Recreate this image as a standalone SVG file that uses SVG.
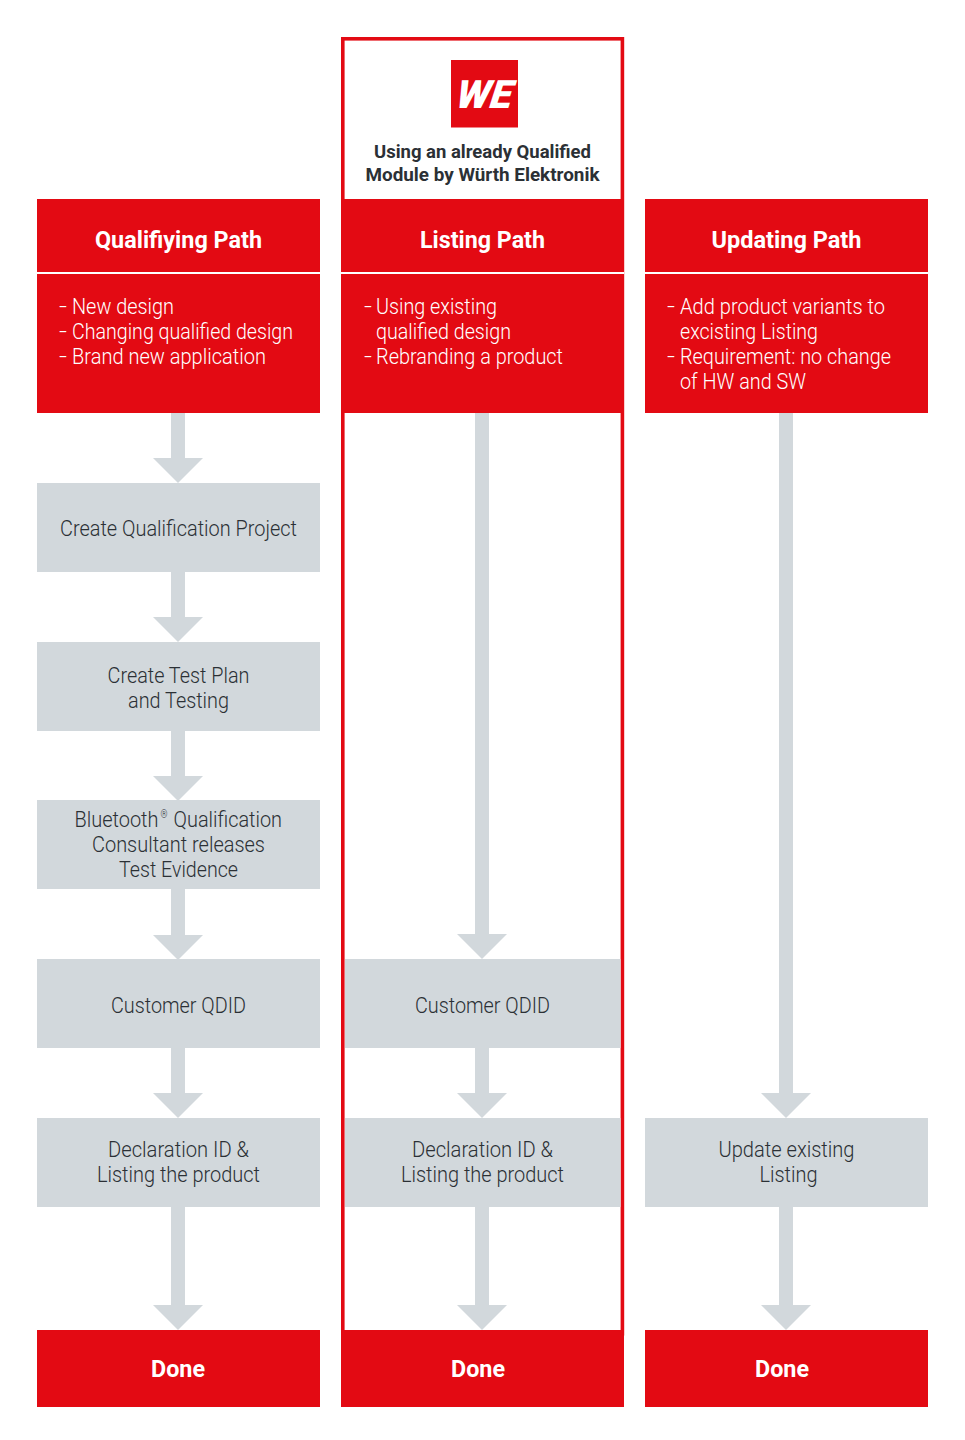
<svg xmlns="http://www.w3.org/2000/svg" width="965" height="1440" viewBox="0 0 965 1440">
<style>
.red{fill:#e30a13}
.gray{fill:#d2d8dc}
.arrow{fill:#d2d8dc}
text{font-family:"Roboto","Liberation Sans",sans-serif}
.t{font-size:22px;font-weight:300;fill:#2b3035;text-anchor:middle}
.s{font-size:22px;font-weight:300;fill:#2b3035}
.r{font-size:10px;font-weight:300;fill:#2b3035}
.l{font-size:22px;font-weight:300;fill:#fff}
.h{font-size:24px;font-weight:700;fill:#fff;text-anchor:middle}
.d{font-size:24px;font-weight:700;fill:#fff;text-anchor:middle}
.c{font-size:18.5px;font-weight:700;fill:#2b3035;text-anchor:middle}
</style>
<rect width="965" height="1440" fill="#fff"/>
<g id="connectors">
<path class="arrow" d="M171 413h14v45h18l-25 25-25-25h18z"/>
<path class="arrow" d="M171 572h14v45h18l-25 25-25-25h18z"/>
<path class="arrow" d="M171 731h14v45h18l-25 25-25-25h18z"/>
<path class="arrow" d="M171 889h14v46h18l-25 25-25-25h18z"/>
<path class="arrow" d="M171 1048h14v45h18l-25 25-25-25h18z"/>
<path class="arrow" d="M171 1207h14v98h18l-25 25-25-25h18z"/>
<path class="arrow" d="M475 413h14v521h18l-25 25-25-25h18z"/>
<path class="arrow" d="M475 1048h14v45h18l-25 25-25-25h18z"/>
<path class="arrow" d="M475 1207h14v98h18l-25 25-25-25h18z"/>
<path class="arrow" d="M779 413h14v680h18l-25 25-25-25h18z"/>
<path class="arrow" d="M779 1207h14v98h18l-25 25-25-25h18z"/>
</g>
<g id="listing-frame"><rect x="342.800" y="38.800" width="279.600" height="1295" fill="none" stroke="#e30a13" stroke-width="3.600"/></g>
<g id="logo">
<rect class="red" x="451" y="60" width="67" height="67.500"/>
<text transform="translate(483 108) skewX(-8)" x="0" y="0" font-size="39" font-weight="900" font-style="italic" fill="#fff" text-anchor="middle" textLength="56" lengthAdjust="spacingAndGlyphs">WE</text>
</g>
<g id="intro">
<text class="c" x="482.500" y="158" textLength="217" lengthAdjust="spacingAndGlyphs">Using an already Qualified</text>
<text class="c" x="482.500" y="181" textLength="234" lengthAdjust="spacingAndGlyphs">Module by Würth Elektronik</text>
</g>
<g id="qualifying-head">
<rect class="red" x="37" y="199" width="283" height="73"/>
<text class="h" x="178.500" y="248" textLength="167" lengthAdjust="spacingAndGlyphs">Qualifiying Path</text>
</g>
<g id="listing-head">
<rect class="red" x="341" y="199" width="283" height="73"/>
<rect x="341" y="272" width="283" height="2" fill="#fff"/>
<text class="h" x="482.500" y="248" textLength="125" lengthAdjust="spacingAndGlyphs">Listing Path</text>
</g>
<g id="updating-head">
<rect class="red" x="645" y="199" width="283" height="73"/>
<text class="h" x="786.500" y="248" textLength="150" lengthAdjust="spacingAndGlyphs">Updating Path</text>
</g>
<g id="qualifying-desc">
<rect class="red" x="37" y="274" width="283" height="139"/>
<text class="l" x="59" y="314" textLength="8" lengthAdjust="spacingAndGlyphs">-</text><text class="l" x="72" y="314" textLength="102" lengthAdjust="spacingAndGlyphs">New design</text>
<text class="l" x="59" y="339" textLength="8" lengthAdjust="spacingAndGlyphs">-</text><text class="l" x="72" y="339" textLength="221" lengthAdjust="spacingAndGlyphs">Changing qualified design</text>
<text class="l" x="59" y="364" textLength="8" lengthAdjust="spacingAndGlyphs">-</text><text class="l" x="72" y="364" textLength="194" lengthAdjust="spacingAndGlyphs">Brand new application</text>
</g>
<g id="listing-desc">
<rect class="red" x="341" y="274" width="283" height="139"/>
<text class="l" x="364" y="314" textLength="8" lengthAdjust="spacingAndGlyphs">-</text><text class="l" x="376" y="314" textLength="121" lengthAdjust="spacingAndGlyphs">Using existing</text>
<text class="l" x="376" y="339" textLength="135" lengthAdjust="spacingAndGlyphs">qualified design</text>
<text class="l" x="364" y="364" textLength="8" lengthAdjust="spacingAndGlyphs">-</text><text class="l" x="376" y="364" textLength="187" lengthAdjust="spacingAndGlyphs">Rebranding a product</text>
</g>
<g id="updating-desc">
<rect class="red" x="645" y="274" width="283" height="139"/>
<text class="l" x="667" y="314" textLength="8" lengthAdjust="spacingAndGlyphs">-</text><text class="l" x="680" y="314" textLength="205" lengthAdjust="spacingAndGlyphs">Add product variants to</text>
<text class="l" x="680" y="339" textLength="138" lengthAdjust="spacingAndGlyphs">excisting Listing</text>
<text class="l" x="667" y="364" textLength="8" lengthAdjust="spacingAndGlyphs">-</text><text class="l" x="680" y="364" textLength="211" lengthAdjust="spacingAndGlyphs">Requirement: no change</text>
<text class="l" x="680" y="389" textLength="126" lengthAdjust="spacingAndGlyphs">of HW and SW</text>
</g>
<g id="create-project">
<rect class="gray" x="37" y="483" width="283" height="89"/>
<text class="t" x="178.500" y="536" textLength="237" lengthAdjust="spacingAndGlyphs">Create Qualification Project</text>
</g>
<g id="test-plan">
<rect class="gray" x="37" y="642" width="283" height="89"/>
<text class="t" x="178.500" y="683" textLength="142" lengthAdjust="spacingAndGlyphs">Create Test Plan</text>
<text class="t" x="178.500" y="708" textLength="101" lengthAdjust="spacingAndGlyphs">and Testing</text>
</g>
<g id="bluetooth">
<rect class="gray" x="37" y="800" width="283" height="89"/>
<text class="s" x="74.500" y="827" textLength="84" lengthAdjust="spacingAndGlyphs">Bluetooth</text>
<text class="r" x="160.500" y="818" textLength="7" lengthAdjust="spacingAndGlyphs">®</text>
<text class="s" x="173.500" y="827" textLength="108.500" lengthAdjust="spacingAndGlyphs">Qualification</text>
<text class="t" x="178.500" y="852" textLength="173" lengthAdjust="spacingAndGlyphs">Consultant releases</text>
<text class="t" x="178.500" y="877" textLength="119" lengthAdjust="spacingAndGlyphs">Test Evidence</text>
</g>
<g id="qdid-1">
<rect class="gray" x="37" y="959" width="283" height="89"/>
<text class="t" x="178.500" y="1012.500" textLength="135" lengthAdjust="spacingAndGlyphs">Customer QDID</text>
</g>
<g id="qdid-2">
<rect class="gray" x="345" y="959" width="275.500" height="89"/>
<text class="t" x="482.500" y="1012.500" textLength="135" lengthAdjust="spacingAndGlyphs">Customer QDID</text>
</g>
<g id="declaration-1">
<rect class="gray" x="37" y="1118" width="283" height="89"/>
<text class="t" x="178.500" y="1157" textLength="141" lengthAdjust="spacingAndGlyphs">Declaration ID &amp;</text>
<text class="t" x="178.500" y="1182" textLength="163" lengthAdjust="spacingAndGlyphs">Listing the product</text>
</g>
<g id="declaration-2">
<rect class="gray" x="345" y="1118" width="275.500" height="89"/>
<text class="t" x="482.500" y="1157" textLength="141" lengthAdjust="spacingAndGlyphs">Declaration ID &amp;</text>
<text class="t" x="482.500" y="1182" textLength="163" lengthAdjust="spacingAndGlyphs">Listing the product</text>
</g>
<g id="update-listing">
<rect class="gray" x="645" y="1118" width="283" height="89"/>
<text class="t" x="786.500" y="1157" textLength="136" lengthAdjust="spacingAndGlyphs">Update existing</text>
<text class="t" x="788.500" y="1182" textLength="58" lengthAdjust="spacingAndGlyphs">Listing</text>
</g>
<g id="done-1">
<rect class="red" x="37" y="1330" width="283" height="77"/>
<text class="d" x="178" y="1377" textLength="54" lengthAdjust="spacingAndGlyphs">Done</text>
</g>
<g id="done-2">
<rect class="red" x="341" y="1330" width="283" height="77"/>
<text class="d" x="478" y="1377" textLength="54" lengthAdjust="spacingAndGlyphs">Done</text>
</g>
<g id="done-3">
<rect class="red" x="645" y="1330" width="283" height="77"/>
<text class="d" x="782" y="1377" textLength="54" lengthAdjust="spacingAndGlyphs">Done</text>
</g>
</svg>
